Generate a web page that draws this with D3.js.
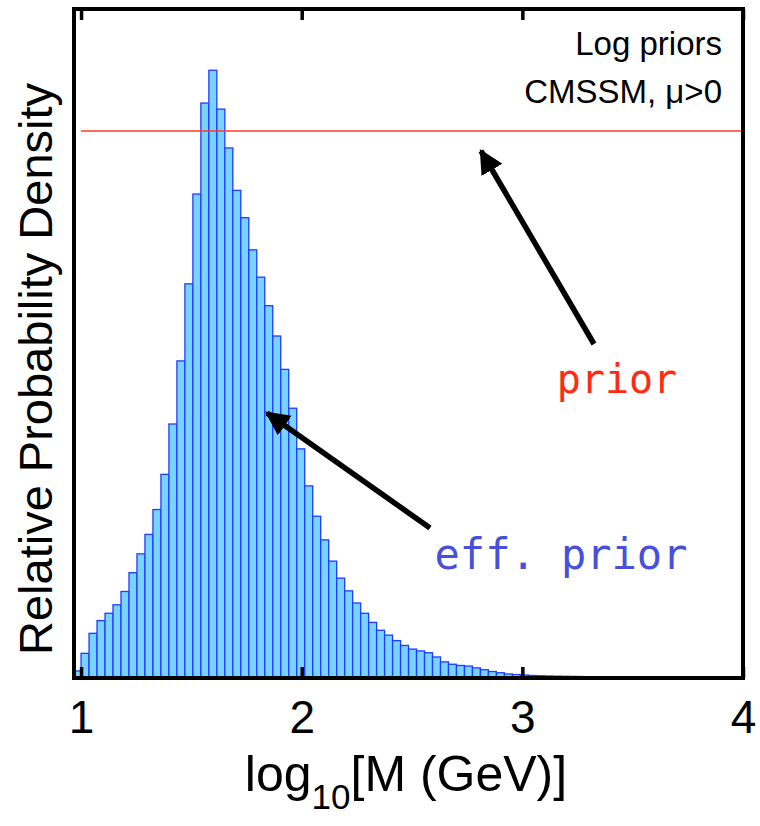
<!DOCTYPE html>
<html>
<head>
<meta charset="utf-8">
<script src="https://cdn.jsdelivr.net/npm/d3@7"></script>
<style>
  html, body { margin: 0; padding: 0; background: #fff; }
  svg { display: block; }
</style>
</head>
<body>
<svg id="chart" width="760" height="826"></svg>
<script>
// Histogram of the effective prior on log10(M / GeV), relative units (peak = 1000)
const binStart = 0.9638;   // left edge of the first bin
const binWidth = 0.0362;   // bin width in log10 units
const effPrior = [
  10, 39, 72, 93, 105, 119, 141, 172, 203, 235, 276, 334, 417, 521, 648, 796,
  946, 1000, 936, 872, 802, 757, 704, 659, 612, 562, 507, 443, 376, 315, 265, 226,
  191, 163, 142, 122, 105, 90, 77, 69, 60, 52, 46, 43, 40, 33, 25, 21,
  19, 18, 15, 12, 9, 7, 5, 4, 3.3, 2.5, 2.1, 1.7, 1.4, 1.2, 1, 0.8
];
// Flat log prior level, same units
const priorLevel = 900;

const xDomain = [0.968, 4];
const yMax = 1101;
const xTicks = [1, 2, 3, 4];
const xLabelMain = "log";
const xLabelSub = "10";
const xLabelRest = "[M (GeV)]";
const yLabel = "Relative Probability Density";
const cornerLines = ["Log priors", "CMSSM, \u03bc>0"];

const svg = d3.select("#chart");
const L = 74, R = 743, T = 9, B = 678, base = 677;

const x = d3.scaleLinear().domain(xDomain).range([L, R]);
const y = d3.scaleLinear().domain([0, yMax]).range([base, T]);

svg.append("defs").append("clipPath").attr("id", "plotClip")
  .append("rect").attr("x", L).attr("y", T).attr("width", R - L).attr("height", B - T);

const bins = effPrior.map((v, i) => ({
  x0: binStart + i * binWidth,
  x1: binStart + (i + 1) * binWidth,
  v
}));

// bars
svg.append("g").attr("clip-path", "url(#plotClip)")
  .selectAll("rect").data(bins).join("rect")
  .attr("x", d => x(d.x0))
  .attr("width", d => x(d.x1) - x(d.x0))
  .attr("y", d => y(d.v))
  .attr("height", d => y(0) - y(d.v) + 2)
  .attr("fill", "#78d4ff")
  .attr("stroke", "#1f3cff")
  .attr("stroke-width", 1.3);

// flat prior line
svg.append("line")
  .attr("x1", x(1)).attr("x2", R)
  .attr("y1", y(priorLevel)).attr("y2", y(priorLevel))
  .attr("stroke", "#ff3a2a").attr("stroke-width", 1.6);

// inner ticks on bottom and top
const tickLen = 11;
const axB = d3.axisBottom(x).tickValues(xTicks).tickSizeInner(-tickLen).tickSizeOuter(0).tickFormat(d3.format("d")).tickPadding(22);
const gB = svg.append("g").attr("transform", `translate(0,${B})`).call(axB);
gB.select(".domain").remove();
gB.selectAll(".tick line").attr("stroke", "#000").attr("stroke-width", 3.5);
gB.selectAll(".tick text")
  .attr("font-family", "'Liberation Sans', Arial, sans-serif")
  .attr("font-size", 46).attr("fill", "#000");

const axT = d3.axisTop(x).tickValues(xTicks).tickSizeInner(-tickLen).tickSizeOuter(0).tickFormat("");
const gT = svg.append("g").attr("transform", `translate(0,${T})`).call(axT);
gT.select(".domain").remove();
gT.selectAll(".tick line").attr("stroke", "#000").attr("stroke-width", 3.5);

// frame
svg.append("rect")
  .attr("x", L).attr("y", T).attr("width", R - L).attr("height", B - T)
  .attr("fill", "none").attr("stroke", "#000").attr("stroke-width", 4);

// axis titles
const xt = svg.append("text")
  .attr("x", 406).attr("y", 791)
  .attr("text-anchor", "middle")
  .attr("font-family", "'Liberation Sans', Arial, sans-serif")
  .attr("font-size", 50).attr("fill", "#000");
xt.append("tspan").text(xLabelMain);
xt.append("tspan").attr("font-size", 35).attr("dy", 18).text(xLabelSub);
xt.append("tspan").attr("dy", -18).text(xLabelRest);

svg.append("text")
  .attr("transform", "translate(52,369) rotate(-90)")
  .attr("text-anchor", "middle")
  .attr("font-family", "'Liberation Sans', Arial, sans-serif")
  .attr("font-size", 47).attr("fill", "#000")
  .text(yLabel);

// corner caption
svg.append("g").selectAll("text").data(cornerLines).join("text")
  .attr("x", 722)
  .attr("y", (d, i) => 55 + i * 48)
  .attr("text-anchor", "end")
  .attr("font-family", "'Liberation Sans', Arial, sans-serif")
  .attr("font-size", 33).attr("fill", "#000")
  .text(d => d);

// annotation arrows
const defs = svg.select("defs");
defs.append("marker")
  .attr("id", "head").attr("viewBox", "0 0 10 10")
  .attr("refX", 9).attr("refY", 5)
  .attr("markerWidth", 4.4).attr("markerHeight", 4.4)
  .attr("markerUnits", "strokeWidth")
  .attr("orient", "auto")
  .append("path").attr("d", "M0,0 L10,5 L0,10 Z").attr("fill", "#000");

const arrows = [
  { from: [594, 344], to: [481, 151] },
  { from: [430, 528], to: [267, 413] }
];
svg.append("g").selectAll("line").data(arrows).join("line")
  .attr("x1", d => d.from[0]).attr("y1", d => d.from[1])
  .attr("x2", d => d.to[0]).attr("y2", d => d.to[1])
  .attr("stroke", "#000").attr("stroke-width", 5.5)
  .attr("marker-end", "url(#head)");

svg.append("text")
  .attr("x", 617).attr("y", 393)
  .attr("text-anchor", "middle")
  .attr("font-family", "'DejaVu Sans Mono', monospace")
  .attr("font-size", 40).attr("fill", "#ff2a10")
  .text("prior");

svg.append("text")
  .attr("x", 561).attr("y", 569)
  .attr("text-anchor", "middle")
  .attr("font-family", "'DejaVu Sans Mono', monospace")
  .attr("font-size", 42).attr("fill", "#4650d8")
  .text("eff. prior");
</script>
</body>
</html>
